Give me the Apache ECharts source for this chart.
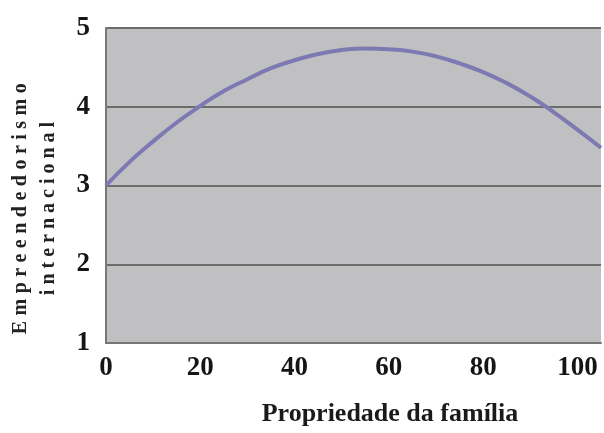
<!DOCTYPE html>
<html>
<head>
<meta charset="utf-8">
<script src="https://cdn.jsdelivr.net/npm/echarts@6/dist/echarts.min.js"></script>
<style>
  html, body { margin: 0; padding: 0; background: #ffffff; }
  #chart { width: 604px; height: 433px; }
</style>
</head>
<body>
<div id="chart"></div>
<script>
// ---- Data ----
const xValues = [0, 5, 10, 15, 20, 25, 30, 35, 40, 45, 50, 55, 60, 65, 70, 75, 80, 85, 90, 95, 100, 105];
const yValues = [3.00, 3.30, 3.56, 3.80, 4.01, 4.20, 4.35, 4.49, 4.59, 4.67, 4.72, 4.74, 4.73, 4.70, 4.64, 4.55, 4.44, 4.30, 4.13, 3.93, 3.71, 3.48];
const xTicks = [0, 20, 40, 60, 80, 100];
const yTicks = [1, 2, 3, 4, 5];
const xTitle = 'Propriedade da família';
const yTitleLines = ['Empreendedorismo', 'internacional'];

// Wide letter spacing for the vertical title (as in the reference)
(function () {
  const proto = CanvasRenderingContext2D.prototype;
  const orig = proto.fillText;
  const spacing = { 'Empreendedorismo': '5.5px', 'internacional': '5px' };
  proto.fillText = function (t, x, y, w) {
    const args = (w === undefined) ? [t, x, y] : [t, x, y, w];
    if (Object.prototype.hasOwnProperty.call(spacing, t) && 'letterSpacing' in this) {
      const f = this.font;
      this.letterSpacing = spacing[t];
      this.font = f;
      const r = orig.apply(this, args);
      this.letterSpacing = '0px';
      this.font = f;
      return r;
    }
    if ('letterSpacing' in this && this.letterSpacing !== '0px') {
      this.letterSpacing = '0px';
      this.font = this.font;
    }
    return orig.apply(this, args);
  };
})();

const seriesData = xValues.map((x, i) => [x, yValues[i]]);
const serif = '"Liberation Serif", "Times New Roman", serif';

const chart = echarts.init(document.getElementById('chart'), null, { renderer: 'canvas' });
chart.setOption({
  animation: false,
  backgroundColor: '#ffffff',
  grid: {
    left: 106, right: 0, top: 28, bottom: 90,
    show: true, backgroundColor: '#c0c0c2', borderWidth: 0
  },
  xAxis: {
    type: 'value',
    min: xTicks[0], max: 105, interval: 20,
    axisLine: { show: true, onZero: false, lineStyle: { color: '#777777', width: 2 } },
    axisTick: { show: false },
    splitLine: { show: false },
    axisLabel: {
      fontFamily: serif, fontWeight: 'bold', fontSize: 27, color: '#151515', margin: 12,
      formatter: v => (xTicks.indexOf(v) >= 0 ? String(v) : '')
    }
  },
  yAxis: {
    type: 'value',
    min: yTicks[0], max: yTicks[yTicks.length - 1], interval: 1,
    axisLine: { show: true, lineStyle: { color: '#777777', width: 2 } },
    axisTick: { show: false },
    splitLine: { show: true, lineStyle: { color: '#6c6c6c', width: 2 } },
    axisLabel: {
      fontFamily: serif, fontWeight: 'bold', fontSize: 27, color: '#151515', margin: 16
    }
  },
  graphic: [
    {
      type: 'text', x: 390, y: 414,
      style: {
        text: xTitle, font: 'bold 26px ' + serif, fill: '#1a1a1a',
        align: 'center', verticalAlign: 'middle'
      }
    },
    {
      type: 'text', x: 21, y: 206, rotation: Math.PI / 2,
      style: {
        text: yTitleLines[0], font: 'bold 20px ' + serif, fill: '#222222',
        align: 'center', verticalAlign: 'middle'
      }
    },
    {
      type: 'text', x: 49, y: 206, rotation: Math.PI / 2,
      style: {
        text: yTitleLines[1], font: 'bold 20px ' + serif, fill: '#222222',
        align: 'center', verticalAlign: 'middle'
      }
    }
  ],
  series: [{
    type: 'line',
    data: seriesData,
    smooth: true,
    showSymbol: false,
    lineStyle: { color: '#7d79b3', width: 4 },
    z: 5
  }]
});
</script>
</body>
</html>
